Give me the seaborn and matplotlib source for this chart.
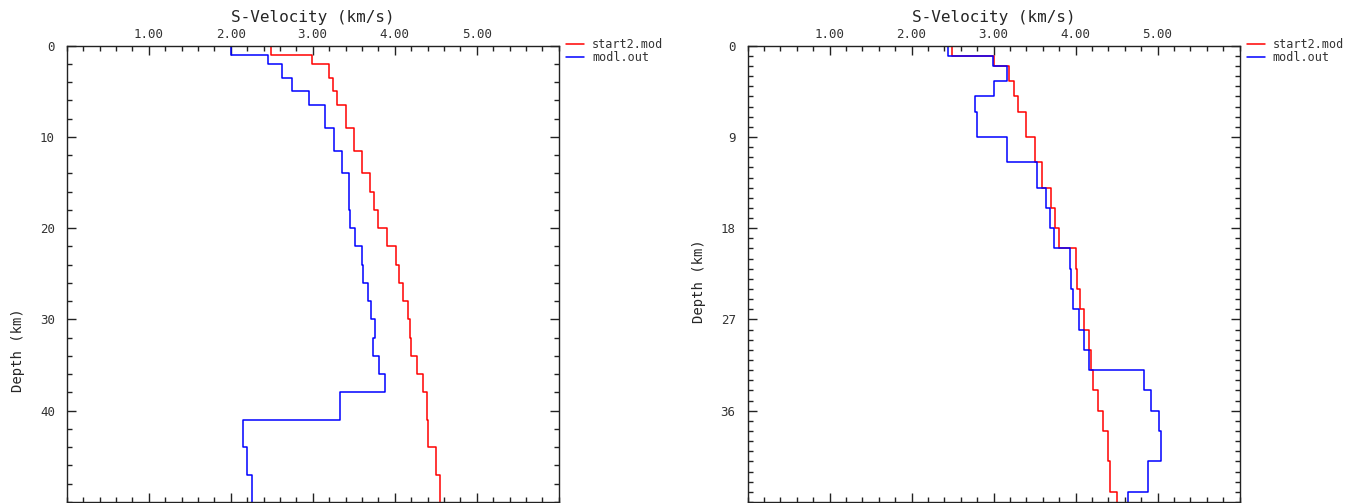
import matplotlib
matplotlib.use('Agg')
import matplotlib.pyplot as plt
from matplotlib.ticker import MultipleLocator, FormatStrFormatter
import numpy as np
import seaborn as sns

# layer tops (km) and S velocities (km/s)
left_tops = [0, 1, 2, 3.5, 5, 6.5, 9, 11.5, 14, 16, 18, 20, 22, 24, 26, 28, 30, 32, 34, 36, 38, 41, 44, 47]
left_start = [2.49, 2.99, 3.20, 3.25, 3.30, 3.40, 3.50, 3.60, 3.70, 3.75, 3.80, 3.90, 4.01, 4.05,
              4.10, 4.16, 4.19, 4.20, 4.27, 4.34, 4.39, 4.41, 4.50, 4.55]
left_out = [2.00, 2.46, 2.62, 2.75, 2.96, 3.15, 3.26, 3.36, 3.44, 3.44, 3.45, 3.52, 3.60, 3.61,
            3.67, 3.71, 3.76, 3.74, 3.81, 3.88, 3.33, 2.15, 2.20, 2.26]
left_yticks = [0, 10, 20, 30, 40]

right_tops = [0, 1, 2, 3.5, 5, 6.5, 9, 11.5, 14, 16, 18, 20, 22, 24, 26, 28, 30, 32, 34, 36, 38, 41, 44]
right_start = [2.49, 3.00, 3.19, 3.25, 3.30, 3.40, 3.50, 3.59, 3.70, 3.75, 3.80, 4.00, 4.02, 4.05,
               4.10, 4.16, 4.19, 4.21, 4.27, 4.34, 4.40, 4.42, 4.50]
right_out = [2.44, 2.99, 3.16, 3.00, 2.78, 2.80, 3.16, 3.53, 3.64, 3.69, 3.74, 3.93, 3.94, 3.97,
             4.04, 4.10, 4.16, 4.83, 4.92, 5.02, 5.04, 4.89, 4.64]
right_yticks = [0, 9, 18, 27, 36]

series_names = ['start2.mod', 'modl.out']
series_colors = ['#ff0000', '#0000ff']
xticks = [1, 2, 3, 4, 5]


def steps(tops, vel, bottom):
    bots = list(tops[1:]) + [bottom]
    d = np.column_stack([tops, bots]).ravel()
    v = np.repeat(vel, 2)
    return v, d


sns.set_style('ticks')
plt.rcParams['font.family'] = ['DejaVu Sans Mono']
plt.rcParams['text.color'] = '#333333'

fig = plt.figure(figsize=(13.7, 5.03), dpi=100)
W, H = 1370, 503

panels = [
    (66.7, left_tops, left_start, left_out, 50, left_yticks, 2, 350),
    (747.5, right_tops, right_start, right_out, 45, right_yticks, 1, 281),
]

for x0, tops, start, out, dmax, yt, dmin, ylab_px in panels:
    ax = fig.add_axes([x0 / W, 1 / H, 492 / W, (502 - 45.7) / H])
    for vel, name, col in zip([start, out], series_names, series_colors):
        v, d = steps(tops, vel, dmax)
        sns.lineplot(x=v, y=d, sort=False, estimator=None, color=col, lw=1.1,
                     label=name, ax=ax)
    ax.set_xlim(0, 6)
    ax.set_ylim(dmax, 0)

    ax.xaxis.set_minor_locator(MultipleLocator(0.2))
    ax.yaxis.set_minor_locator(MultipleLocator(dmin))
    ax.set_xticks(xticks)
    ax.set_yticks(yt)
    ax.xaxis.set_major_formatter(FormatStrFormatter('%.2f'))
    ax.tick_params(which='both', direction='in', top=True, bottom=True, left=True, right=True,
                   labeltop=True, labelbottom=False, width=1, color='#222222',
                   labelcolor='#333333')
    ax.tick_params(which='major', length=6.5, labelsize=9)
    ax.tick_params(which='minor', length=3.8)
    ax.tick_params(axis='x', pad=3.5)
    ax.tick_params(axis='y', pad=8.5)
    for s in ax.spines.values():
        s.set_linewidth(1)
        s.set_color('#222222')

    ax.set_xlabel('S-Velocity (km/s)', fontsize=11.5)
    ax.xaxis.set_label_position('top')
    ax.xaxis.set_label_coords(0.5, (502 - 18) / (502 - 45.7))
    ax.xaxis.label.set_verticalalignment('center')
    ax.set_ylabel('Depth (km)', fontsize=10)
    ax.yaxis.set_label_coords((18 - 66.7) / 492, (502 - ylab_px) / (502 - 45.7))
    ax.yaxis.label.set_verticalalignment('center')

    ax.legend(loc='upper left', bbox_to_anchor=(1.015, 1.016), frameon=False,
              borderpad=0, borderaxespad=0, handlelength=1.5, handletextpad=0.7,
              labelspacing=0.0, fontsize=8.5)

fig.savefig('out.png', dpi=100)
